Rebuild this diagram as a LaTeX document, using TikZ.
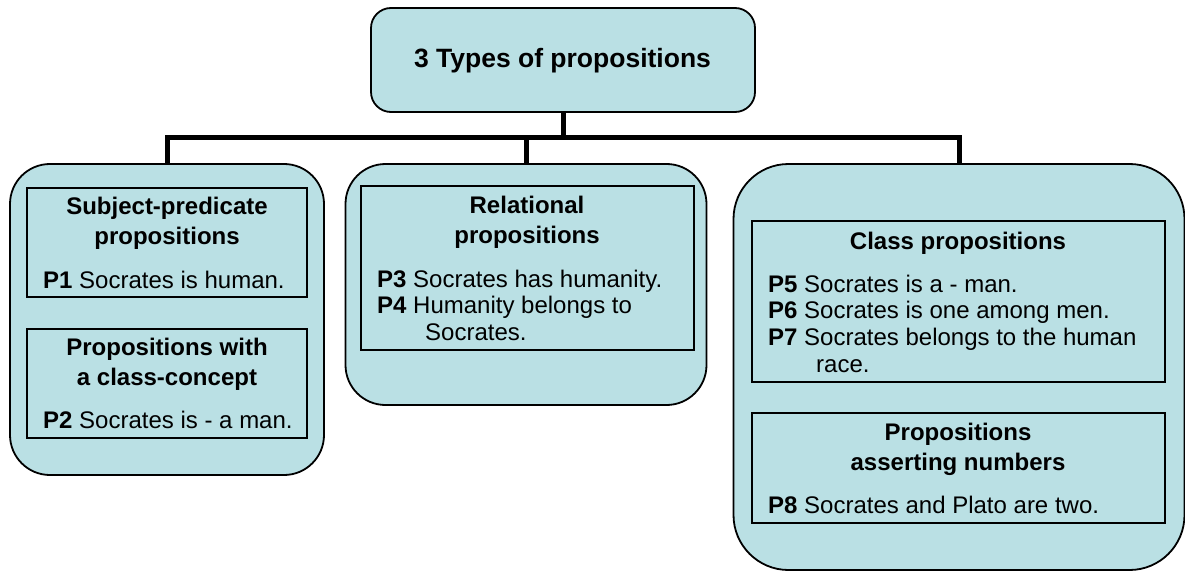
\documentclass[tikz,border=0pt]{standalone}
\usepackage{fontspec}
\setmainfont{Liberation Sans}
\definecolor{boxblue}{RGB}{186,224,228}
\begin{document}
\begin{tikzpicture}[x=1pt,y=-1pt,
  titlebox/.style={draw=black, line width=1.8pt, fill=boxblue, rounded corners=20pt,
    minimum width=384pt, minimum height=104pt, inner sep=0pt},
  panel/.style={draw=black, line width=1.8pt, fill=boxblue, inner sep=0pt},
  frame/.style={draw=black, line width=1.8pt, inner sep=0pt},
  head/.style={anchor=base, inner sep=0pt, font=\fontsize{24}{30}\selectfont\bfseries},
  body/.style={anchor=base west, inner sep=0pt, font=\fontsize{24}{27}\selectfont},
  bus/.style={draw=black, line width=5pt}
]
\useasboundingbox (0,0) rectangle (1185,572);

% top box
\node[titlebox] (top) at (563,60) {};
\node[inner sep=0pt, anchor=base, font=\fontsize{26.5}{32}\selectfont\bfseries] (ttl) at (562.5,68) {3 Types of propositions};

% three panels
\node[panel, rounded corners=40pt, minimum width=314pt, minimum height=311pt] (lp) at (167,319.5) {};
\node[panel, rounded corners=40pt, minimum width=361pt, minimum height=241pt] (mp) at (526,284.5) {};
\node[panel, rounded corners=55pt, minimum width=451pt, minimum height=406pt] (rp) at (959,367) {};

% connectors
\coordinate (busc) at (562,138);
\draw[bus] (top.south) -- (top.south |- busc);
\draw[bus] (lp.north) -- (lp.north |- busc) -- (rp.north |- busc) -- (rp.north);
\draw[bus] (mp.north) -- (mp.north |- busc);

% left panel
\node[frame, minimum width=280pt, minimum height=109pt] (l1) at (167,242.5) {};
\node[head] (l1a) at (167,214) {Subject-predicate};
\node[head] (l1b) at (167,244) {propositions};
\node[body] (p1) at (43,288) {\textbf{P1} Socrates is human.};

\node[frame, minimum width=280pt, minimum height=109pt] (l2) at (167,383.5) {};
\node[head] (l2a) at (167,355) {Propositions with};
\node[head] (l2b) at (167,385) {a class-concept};
\node[body] (p2) at (43,428) {\textbf{P2} Socrates is - a man.};

% middle panel
\node[frame, minimum width=333pt, minimum height=164pt] (m1) at (527.5,268) {};
\node[head] (m1a) at (527,213) {Relational};
\node[head] (m1b) at (527,243) {propositions};
\node[body] (p3) at (377,287) {\textbf{P3} Socrates has humanity.};
\node[body] (p4) at (377,313) {\textbf{P4} Humanity belongs to};
\node[body] (p4b) at (425,340) {Socrates.};

% right panel
\node[frame, minimum width=413pt, minimum height=161pt] (r1) at (958.5,301.5) {};
\node[head] (r1a) at (958,249) {Class propositions};
\node[body] (p5) at (768,292) {\textbf{P5} Socrates is a - man.};
\node[body] (p6) at (768,318) {\textbf{P6} Socrates is one among men.};
\node[body] (p7) at (768,345) {\textbf{P7} Socrates belongs to the human};
\node[body] (p7b) at (816,372) {race.};

\node[frame, minimum width=413pt, minimum height=110pt] (r2) at (958.5,468) {};
\node[head] (r2a) at (958,440) {Propositions};
\node[head] (r2b) at (958,470) {asserting numbers};
\node[body] (p8) at (768,513) {\textbf{P8} Socrates and Plato are two.};
\end{tikzpicture}
\end{document}
